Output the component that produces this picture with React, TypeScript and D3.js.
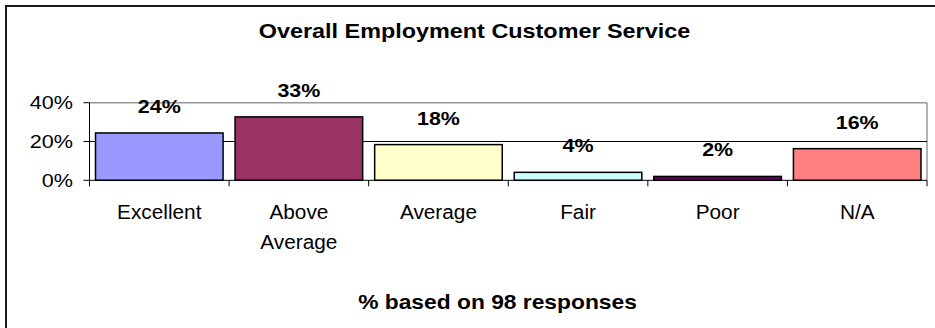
import React, { useEffect } from "react";
import * as d3 from "d3";

// categories and values (% of 98 responses)
const categories = ["Excellent", "Above Average", "Average", "Fair", "Poor", "N/A"];
const shares = [24.4, 32.7, 18.4, 4.1, 2.0, 16.3];
const barColors = ["#9999FF", "#993366", "#FFFFCC", "#CCFFFF", "#660066", "#FF8080"];
const yTicks = [0, 20, 40];
const categoryLines = [["Excellent"], ["Above", "Average"], ["Average"], ["Fair"], ["Poor"], ["N/A"]];

const W = 935;
const H = 328;
const FONT = "'Liberation Sans', Arial, sans-serif";

export default function App() {
  useEffect(() => {
    document.body.style.margin = "0";
  }, []);

  const x = d3
    .scaleBand<string>()
    .domain(categories)
    .range([89.5, 927])
    .paddingInner(0.086)
    .paddingOuter(0.043);
  const y = d3.scaleLinear().domain([0, 40]).range([180.3, 102.7]);

  const step = x.step();
  const x0 = 89.5;
  const boundaries = d3.range(categories.length + 1).map((i) => x0 + i * step);

  return (
    <svg width={W} height={H} style={{ display: "block", background: "#fff" }} fontFamily={FONT}>
      {/* outer chart border */}
      <rect x={6} y={6} width={W + 20} height={H + 20} fill="#fff" stroke="#1a1a1a" strokeWidth={2} />

      {/* title */}
      <text
        transform={`translate(474.5,38.3) scale(1.17,1)`}
        textAnchor="middle"
        fontSize={20}
        fontWeight="bold"
        fill="#000"
      >
        Overall Employment Customer Service
      </text>

      {/* plot area border (gray) */}
      <line x1={x0} x2={927} y1={y(40)} y2={y(40)} stroke="#999" strokeWidth={1.5} />
      <line x1={927} x2={927} y1={y(40)} y2={y(0)} stroke="#999" strokeWidth={1.5} />

      {/* gridline 20% */}
      <line x1={x0} x2={927} y1={y(20)} y2={y(20)} stroke="#000" strokeWidth={1} />

      {/* bars */}
      {categories.map((c, i) => (
        <rect
          key={c}
          x={x(c)!}
          y={y(shares[i])}
          width={x.bandwidth()}
          height={y(0) - y(shares[i])}
          fill={barColors[i]}
          stroke="#000"
          strokeWidth={1.5}
        />
      ))}

      {/* y axis */}
      <line x1={x0} x2={x0} y1={y(40)} y2={y(0)} stroke="#000" strokeWidth={1} />
      {yTicks.map((t) => (
        <g key={t}>
          <line x1={x0 - 6} x2={x0} y1={y(t)} y2={y(t)} stroke="#000" strokeWidth={1} />
          <text
            transform={`translate(73,${y(t) + 6.5}) scale(1.2,1)`}
            textAnchor="end"
            fontSize={18}
            fill="#000"
          >
            {`${t}%`}
          </text>
        </g>
      ))}

      {/* x axis */}
      <line x1={x0} x2={927} y1={y(0)} y2={y(0)} stroke="#000" strokeWidth={1} />
      {boundaries.map((b, i) => (
        <line key={i} x1={b} x2={b} y1={y(0)} y2={y(0) + 6} stroke="#000" strokeWidth={1} />
      ))}

      {/* category labels */}
      {categories.map((c, i) => (
        <g key={c}>
          {categoryLines[i].map((ln, j) => (
            <text
              key={j}
              transform={`translate(${x(c)! + x.bandwidth() / 2},${219 + j * 30}) scale(1.04,1)`}
              textAnchor="middle"
              fontSize={20}
              fill="#000"
            >
              {ln}
            </text>
          ))}
        </g>
      ))}

      {/* data labels */}
      {categories.map((c, i) => (
        <text
          key={c}
          transform={`translate(${x(c)! + x.bandwidth() / 2},${y(shares[i]) - 20}) scale(1.19,1)`}
          textAnchor="middle"
          fontSize={18}
          fontWeight="bold"
          fill="#000"
        >
          {`${Math.round(shares[i])}%`}
        </text>
      ))}

      {/* axis title */}
      <text
        transform={`translate(497.5,309.3) scale(1.14,1)`}
        textAnchor="middle"
        fontSize={20}
        fontWeight="bold"
        fill="#000"
      >
        % based on 98 responses
      </text>
    </svg>
  );
}
